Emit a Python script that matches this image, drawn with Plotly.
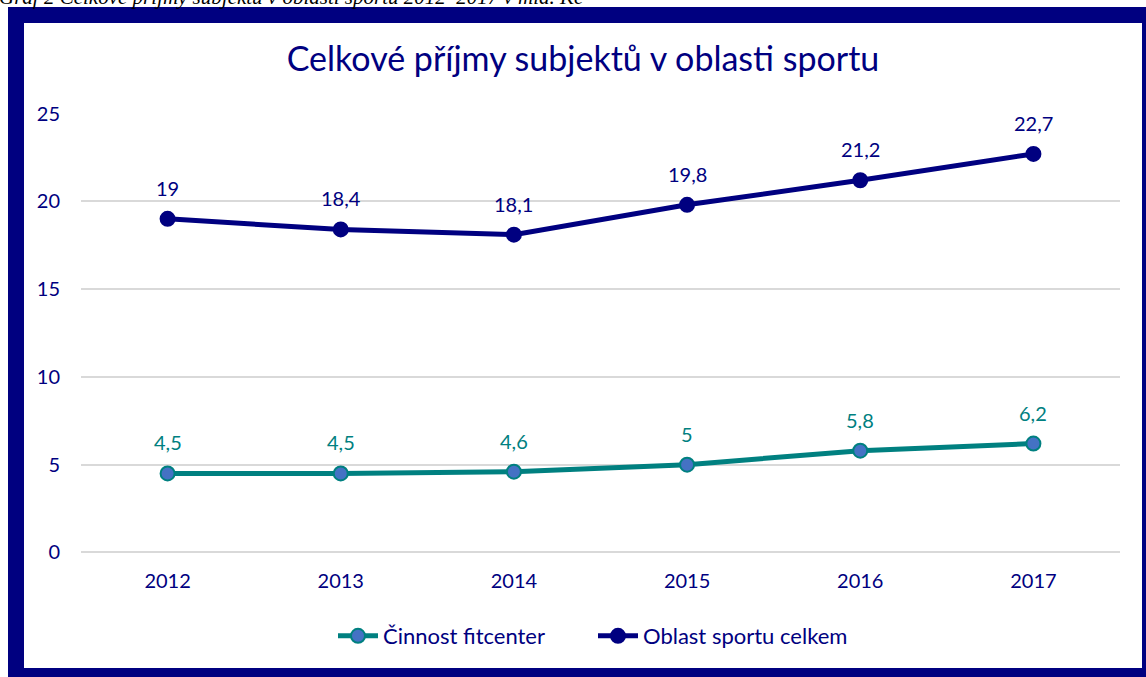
import plotly.graph_objects as go

# data (mld. Kč)
years = ["2012", "2013", "2014", "2015", "2016", "2017"]
fitcentra = [4.5, 4.5, 4.6, 5.0, 5.8, 6.2]
sport_celkem = [19.0, 18.4, 18.1, 19.8, 21.2, 22.7]
y_ticks = [0, 5, 10, 15, 20, 25]

W, H = 1146, 677
ML, MR, MT, MB = 81, 26, 113, 124
NAVY = "#000080"
TEAL = "#008080"
FONT = "Lato, 'Open Sans', sans-serif"


def px_x(p):
    return (p - ML) / (W - ML - MR)


def px_y(p):
    return 1 - (p - MT) / (H - MT - MB)


def fmt(v):
    return ("%g" % v).replace(".", ",")


fig = go.Figure()

fig.add_trace(go.Scatter(
    x=years, y=fitcentra, name="Činnost fitcenter",
    mode="lines+markers",
    line=dict(color=TEAL, width=5),
    marker=dict(size=14, color="#4472C4", line=dict(color=TEAL, width=2)),
))
fig.add_trace(go.Scatter(
    x=years, y=sport_celkem, name="Oblast sportu celkem",
    mode="lines+markers",
    line=dict(color=NAVY, width=5),
    marker=dict(size=14, color=NAVY, line=dict(color=NAVY, width=2)),
))

# data labels above the points (x given as category index)
for vals, col in ((fitcentra, TEAL), (sport_celkem, NAVY)):
    for i, v in enumerate(vals):
        fig.add_annotation(x=i, y=v, text=fmt(v), showarrow=False, yshift=31,
                           font=dict(family=FONT, size=20, color=col))

# navy frame around the chart area
fig.add_shape(type="rect", xref="paper", yref="paper", layer="below",
              x0=px_x(8), x1=px_x(1170), y0=px_y(700), y1=px_y(7),
              fillcolor=NAVY, line=dict(width=0))
fig.add_shape(type="rect", xref="paper", yref="paper", layer="below",
              x0=px_x(24), x1=px_x(1142), y0=px_y(668), y1=px_y(23),
              fillcolor="white", line=dict(width=0))

# caption above the frame (cut off at the top in the original)
fig.add_annotation(xref="paper", yref="paper", x=px_x(-3), y=px_y(-3),
                   xanchor="left", yanchor="middle", showarrow=False,
                   text="<i>Graf 2 Celkové příjmy subjektů v oblasti sportu 2012–2017 v mld. Kč</i>",
                   font=dict(family="Liberation Serif, serif", size=21, color="black"))

fig.update_layout(
    width=W, height=H,
    margin=dict(l=ML, r=MR, t=MT, b=MB),
    paper_bgcolor="white", plot_bgcolor="white",
    title=dict(text="Celkové příjmy subjektů v oblasti sportu",
               x=583 / W, xref="container", xanchor="center",
               y=1 - 59 / H, yanchor="middle",
               font=dict(family=FONT, size=34, color=NAVY)),
    font=dict(family=FONT, color=NAVY),
    legend=dict(orientation="h", x=px_x(593), xanchor="center", y=px_y(636), yanchor="middle",
                font=dict(family=FONT, size=22, color=NAVY),
                entrywidth=205, itemwidth=40,
                bgcolor="rgba(0,0,0,0)"),
    showlegend=True,
)
fig.update_xaxes(type="category", range=[-0.5, 5.5], showgrid=False, showline=False,
                 ticks="", tickfont=dict(size=20, color=NAVY), ticklabelstandoff=14)
fig.update_yaxes(range=[-0.03, 25.03], tickvals=y_ticks, showgrid=True, gridcolor="#d9d9d9",
                 gridwidth=2, zeroline=True, zerolinecolor="#d9d9d9", zerolinewidth=2,
                 showline=False, ticks="",
                 tickfont=dict(size=20, color=NAVY), ticklabelstandoff=20)

fig.write_html("out.html", config={"displayModeBar": False},
               post_script="document.body.style.margin='0px';")
